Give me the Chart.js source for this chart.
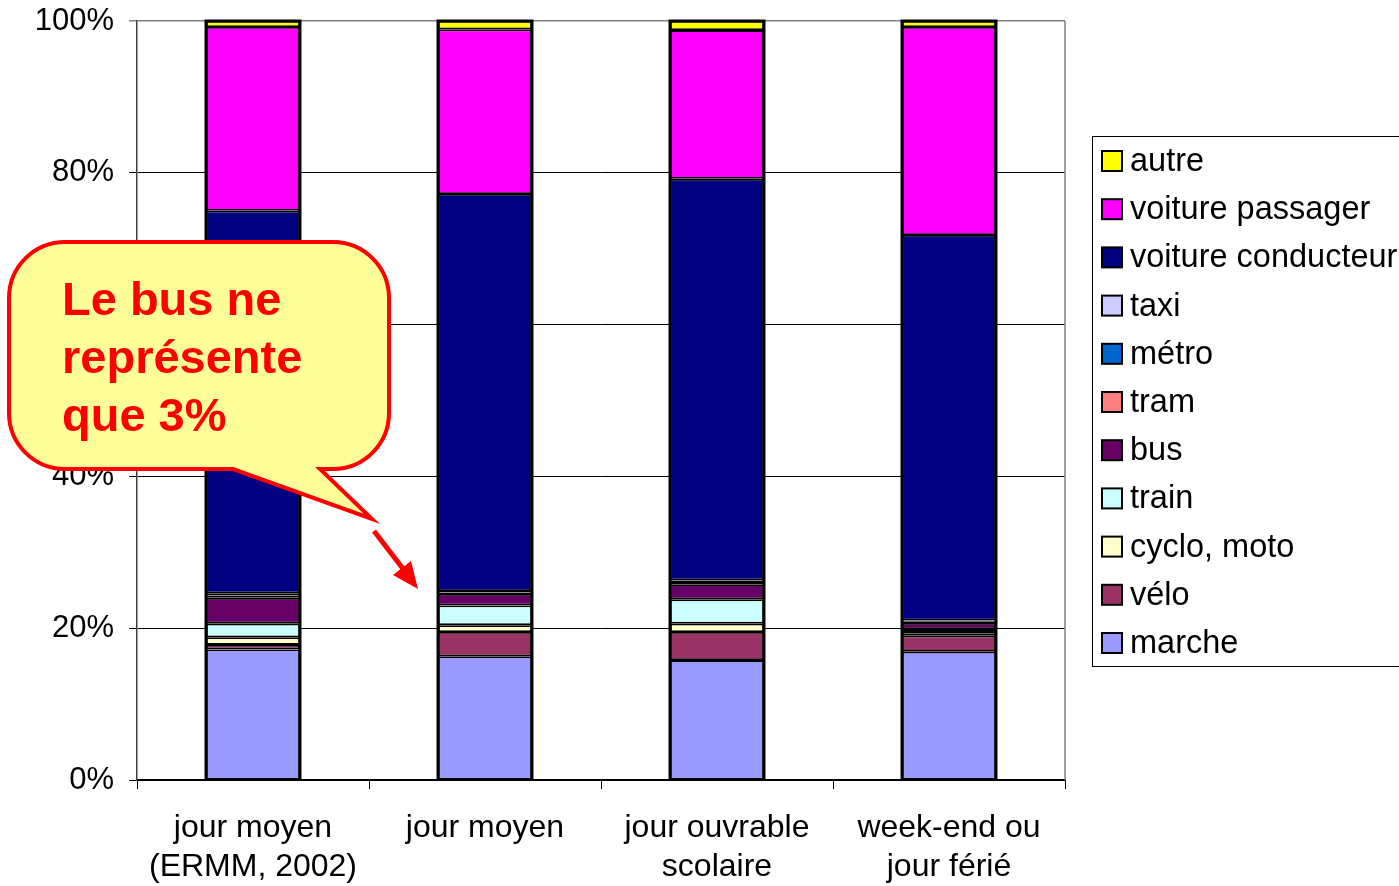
<!DOCTYPE html>
<html>
<head>
<meta charset="utf-8">
<script src="https://cdn.jsdelivr.net/npm/chart.js@4/dist/chart.umd.min.js"></script>
<style>
  html, body { margin: 0; padding: 0; background: #fff; }
  canvas { display: block; }
</style>
</head>
<body>
<canvas id="modeChart" width="1399" height="886"></canvas>
<script>
// Répartition modale par type de jour (parts en %)
const categories = [
  ["jour moyen", "(ERMM, 2002)"],
  "jour moyen",
  ["jour ouvrable", "scolaire"],
  ["week-end ou", "jour férié"]
];

const marche = [17.2, 16.3, 15.8, 16.9];
const velo = [0.6, 3.2, 3.7, 2.1];
const cycloMoto = [1.0, 0.9, 1.1, 0.5];
const train = [1.8, 2.6, 3.2, 0.4];
const bus = [3.4, 1.5, 2.0, 0.8];
const tram = [0.3, 0.2, 0.3, 0.2];
const metro = [0, 0, 0, 0];
const taxi = [0.3, 0.2, 0.2, 0.1];
const voitureConducteur = [50.4, 52.3, 52.9, 50.8];
const voiturePassager = [24.2, 21.7, 19.6, 27.4];
const autre = [0.8, 1.1, 1.2, 0.8];

const yTicks = [0, 20, 40, 60, 80, 100];

const FONT = "'Liberation Sans', Arial, sans-serif";

// ordre d'empilement : du bas vers le haut
const series = [
  { label: "marche", data: marche, color: "#9999FF" },
  { label: "vélo", data: velo, color: "#993366" },
  { label: "cyclo, moto", data: cycloMoto, color: "#FFFFCC" },
  { label: "train", data: train, color: "#CCFFFF" },
  { label: "bus", data: bus, color: "#660066" },
  { label: "tram", data: tram, color: "#FF8080" },
  { label: "métro", data: metro, color: "#0066CC" },
  { label: "taxi", data: taxi, color: "#CCCCFF" },
  { label: "voiture conducteur", data: voitureConducteur, color: "#000080" },
  { label: "voiture passager", data: voiturePassager, color: "#FF00FF" },
  { label: "autre", data: autre, color: "#FFFF00" }
];

// bordure grise à droite du cadre
const plotFrame = {
  id: "plotFrame",
  beforeDatasetsDraw(chart) {
    const { ctx, chartArea } = chart;
    ctx.save();
    ctx.strokeStyle = "#808080";
    ctx.lineWidth = 1.5;
    ctx.beginPath();
    ctx.moveTo(chartArea.right, chartArea.top);
    ctx.lineTo(chartArea.right, chartArea.bottom);
    ctx.stroke();
    ctx.restore();
  }
};

// contour noir épais autour de chaque colonne empilée
const stackOutline = {
  id: "stackOutline",
  afterDatasetsDraw(chart) {
    const ctx = chart.ctx;
    const n = chart.data.labels.length;
    const first = chart.getDatasetMeta(0).data;
    const last = chart.getDatasetMeta(chart.data.datasets.length - 1).data;
    ctx.save();
    ctx.strokeStyle = "#000";
    ctx.lineWidth = 3;
    for (let i = 0; i < n; i++) {
      const b = first[i], t = last[i];
      const left = b.x - b.width / 2;
      ctx.strokeRect(left, t.y, b.width, b.base - t.y);
    }
    ctx.restore();
  }
};

// légende à droite (ordre inverse)
const sideLegend = {
  id: "sideLegend",
  afterDraw(chart) {
    const ctx = chart.ctx;
    const sets = chart.data.datasets.slice().reverse();
    ctx.save();
    ctx.fillStyle = "#fff";
    ctx.fillRect(1092, 136, 320, 530);
    ctx.strokeStyle = "#000";
    ctx.lineWidth = 1;
    ctx.strokeRect(1092.5, 136.5, 320, 530);
    ctx.font = "32.5px " + FONT;
    ctx.textBaseline = "middle";
    ctx.textAlign = "left";
    sets.forEach((ds, i) => {
      const y = 161 + i * 48.2;
      ctx.fillStyle = ds.backgroundColor;
      ctx.fillRect(1102, y - 10, 20, 20);
      ctx.strokeStyle = "#000";
      ctx.lineWidth = 2;
      ctx.strokeRect(1102, y - 10, 20, 20);
      ctx.fillStyle = "#000";
      ctx.fillText(ds.label, 1130, y + 1);
    });
    ctx.restore();
  }
};

// bulle "Le bus ne représente que 3%" + flèche
const callout = {
  id: "callout",
  afterDraw(chart) {
    const ctx = chart.ctx;
    const x0 = 9, y0 = 242, x1 = 389, y1 = 469, r = 56;
    ctx.save();
    ctx.beginPath();
    ctx.moveTo(x0 + r, y0);
    ctx.lineTo(x1 - r, y0);
    ctx.arcTo(x1, y0, x1, y0 + r, r);
    ctx.lineTo(x1, y1 - r);
    ctx.arcTo(x1, y1, x1 - r, y1, r);
    ctx.lineTo(320, y1);
    ctx.lineTo(372, 519);
    ctx.lineTo(233, y1);
    ctx.lineTo(x0 + r, y1);
    ctx.arcTo(x0, y1, x0, y1 - r, r);
    ctx.lineTo(x0, y0 + r);
    ctx.arcTo(x0, y0, x0 + r, y0, r);
    ctx.closePath();
    ctx.fillStyle = "#FFFF99";
    ctx.fill();
    ctx.strokeStyle = "#FF0000";
    ctx.lineWidth = 4;
    ctx.lineJoin = "miter";
    ctx.stroke();

    ctx.fillStyle = "#FF0000";
    ctx.font = "bold 47px " + FONT;
    ctx.textBaseline = "alphabetic";
    ctx.fillText("Le bus ne", 62, 315);
    ctx.fillText("représente", 62, 373);
    ctx.fillText("que 3%", 62, 431);

    // flèche
    ctx.beginPath();
    ctx.moveTo(374, 531);
    ctx.lineTo(404, 570);
    ctx.lineWidth = 5;
    ctx.stroke();
    ctx.beginPath();
    ctx.moveTo(418, 589);
    ctx.lineTo(393, 575);
    ctx.lineTo(411, 561);
    ctx.closePath();
    ctx.fill();
    ctx.restore();
  }
};

new Chart(document.getElementById("modeChart"), {
  type: "bar",
  data: {
    labels: categories,
    datasets: series.map(s => ({
      label: s.label,
      data: s.data,
      backgroundColor: s.color,
      borderColor: "#000",
      borderWidth: 1.8,
      borderSkipped: false,
      barPercentage: 0.405,
      categoryPercentage: 1
    }))
  },
  options: {
    responsive: false,
    animation: false,
    layout: { padding: { left: 0, top: 21, right: 334, bottom: 0 } },
    plugins: {
      legend: { display: false },
      tooltip: { enabled: false }
    },
    scales: {
      x: {
        stacked: true,
        afterFit(scale) { scale.height = 106; },
        grid: {
          offset: true,
          drawOnChartArea: false,
          drawTicks: true,
          tickLength: 9,
          color: "#000"
        },
        border: { color: "#000", width: 1.5 },
        ticks: {
          color: "#000",
          padding: 20,
          maxRotation: 0,
          font: { family: FONT, size: 32, lineHeight: 1.22 }
        }
      },
      y: {
        stacked: true,
        min: 0,
        max: 100,
        afterFit(scale) {
          scale.width = 137;
          scale.paddingTop = 0;
          scale.paddingBottom = 0;
        },
        afterBuildTicks(scale) { scale.ticks = yTicks.map(v => ({ value: v })); },
        grid: {
          color: ctx => (ctx.tick && ctx.tick.value === 100 ? "#808080" : "#000"),
          lineWidth: ctx => (ctx.tick && ctx.tick.value === 100 ? 1.5 : 1),
          tickLength: 8
        },
        border: { color: "#404040", width: 1.5 },
        ticks: {
          color: "#000",
          padding: 15,
          font: { family: FONT, size: 31 },
          callback: v => v + "%"
        }
      }
    }
  },
  plugins: [plotFrame, stackOutline, sideLegend, callout]
});
</script>
</body>
</html>
